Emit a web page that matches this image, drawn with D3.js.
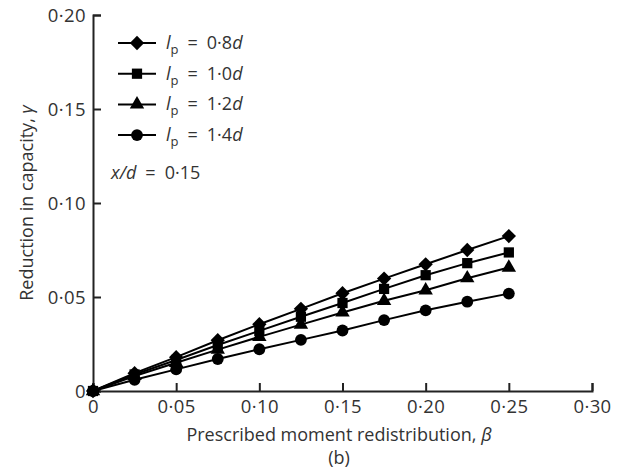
<!DOCTYPE html>
<html>
<head>
<meta charset="utf-8">
<script src="https://cdn.jsdelivr.net/npm/d3@7"></script>
<style>
  body { margin: 0; background: #fff; }
  svg { display: block; font-family: "Open Sans", "Noto Sans", sans-serif; }
</style>
</head>
<body>
<svg id="chart" width="624" height="472"></svg>
<script>
// Prescribed moment redistribution β
const beta = [0, 0.025, 0.05, 0.075, 0.10, 0.125, 0.15, 0.175, 0.20, 0.225, 0.25];

// Reduction in capacity γ for each plastic hinge length
const gamma08 = [0, 0.0095, 0.0180, 0.0270, 0.0355, 0.0437, 0.0520, 0.0598, 0.0674, 0.0750, 0.0824];
const gamma10 = [0, 0.0088, 0.0165, 0.0245, 0.0320, 0.0395, 0.0468, 0.0543, 0.0616, 0.0680, 0.0737];
const gamma12 = [0, 0.0080, 0.0150, 0.0220, 0.0288, 0.0353, 0.0418, 0.0480, 0.0536, 0.0600, 0.0657];
const gamma14 = [0, 0.0060, 0.0115, 0.0170, 0.0222, 0.0272, 0.0322, 0.0377, 0.0429, 0.0475, 0.0518];

const seriesLabels = ["0·8", "1·0", "1·2", "1·4"];
const seriesSymbols = [d3.symbolDiamond2, d3.symbolSquare, d3.symbolTriangle, d3.symbolCircle];
const seriesData = [gamma08, gamma10, gamma12, gamma14];

const xTicks = [0, 0.05, 0.10, 0.15, 0.20, 0.25, 0.30];
const xTickLabels = ["0", "0·05", "0·10", "0·15", "0·20", "0·25", "0·30"];
const yTicks = [0, 0.05, 0.10, 0.15, 0.20];
const yTickLabels = ["0", "0·05", "0·10", "0·15", "0·20"];

const svg = d3.select("#chart");
const ink = "#222";
const textInk = "#333";
const fontFamily = "'Open Sans', 'Noto Sans', sans-serif";

const x = d3.scaleLinear().domain([0, 0.30]).range([93, 592]);
const y = d3.scaleLinear().domain([0, 0.20]).range([391, 15]);

// Axes (ticks point inward)
const xAxis = d3.axisBottom(x).tickValues(xTicks).tickSize(-8)
  .tickFormat((d, i) => xTickLabels[i]).tickPadding(9);
const yAxis = d3.axisLeft(y).tickValues(yTicks).tickSize(-8)
  .tickFormat((d, i) => yTickLabels[i]).tickPadding(7);

const gx = svg.append("g").attr("transform", `translate(0,${y(0)})`).call(xAxis);
const gy = svg.append("g").attr("transform", `translate(${x(0)},0)`).call(yAxis);
[gx, gy].forEach(g => {
  g.select(".domain").attr("stroke", ink).attr("stroke-width", 2);
  g.selectAll(".tick line").attr("stroke", ink).attr("stroke-width", 2);
  g.selectAll(".tick text").attr("fill", textInk).attr("font-size", 18.5)
    .attr("font-family", fontFamily).attr("letter-spacing", 0.4);
});
gy.selectAll(".tick text").attr("dy", "0.36em");

// Series lines and markers
const line = d3.line().x((d, i) => x(beta[i])).y(d => y(d));
const symbolSizes = [130, 105, 90, 110];

seriesData.forEach((vals, s) => {
  svg.append("path").datum(vals).attr("d", line)
    .attr("fill", "none").attr("stroke", "#000").attr("stroke-width", 2);
  svg.append("g").selectAll("path").data(vals).join("path")
    .attr("transform", (d, i) => `translate(${x(beta[i])},${y(d)})`)
    .attr("d", d3.symbol(seriesSymbols[s], symbolSizes[s]))
    .attr("fill", "#000");
});

// Legend
const legend = svg.append("g").attr("font-family", fontFamily);
seriesLabels.forEach((lab, s) => {
  const ly = 43 + s * 30.7;
  legend.append("line").attr("x1", 118).attr("x2", 156).attr("y1", ly).attr("y2", ly)
    .attr("stroke", "#000").attr("stroke-width", 2);
  legend.append("path").attr("transform", `translate(137,${ly})`)
    .attr("d", d3.symbol(seriesSymbols[s], symbolSizes[s])).attr("fill", "#000");
  const t = legend.append("text").attr("x", 166).attr("y", ly + 6)
    .attr("font-size", 18).attr("fill", textInk);
  t.append("tspan").attr("font-style", "italic").text("l");
  t.append("tspan").attr("font-size", 13).attr("dy", 5).text("p");
  t.append("tspan").attr("dy", -5).text("\u2002=\u2002" + lab);
  t.append("tspan").attr("font-style", "italic").text("d");
});
const xd = legend.append("text").attr("x", 111).attr("y", 179)
  .attr("font-size", 18).attr("fill", textInk);
xd.append("tspan").attr("font-style", "italic").text("x/d");
xd.append("tspan").text("\u2002=\u2002" + "0·15");

// Axis titles
const xt = svg.append("text").attr("x", 339).attr("y", 441).attr("text-anchor", "middle")
  .attr("font-size", 18).attr("fill", textInk);
xt.append("tspan").text("Prescribed moment redistribution, ");
xt.append("tspan").attr("font-style", "italic").text("β");

svg.append("text").attr("x", 339).attr("y", 464).attr("text-anchor", "middle")
  .attr("font-size", 18).attr("fill", textInk).text("(b)");

const yt = svg.append("text").attr("transform", "translate(33,203) rotate(-90)")
  .attr("text-anchor", "middle").attr("font-size", 18).attr("fill", textInk);
yt.append("tspan").text("Reduction in capacity, ");
yt.append("tspan").attr("font-style", "italic").text("γ");
</script>
</body>
</html>
